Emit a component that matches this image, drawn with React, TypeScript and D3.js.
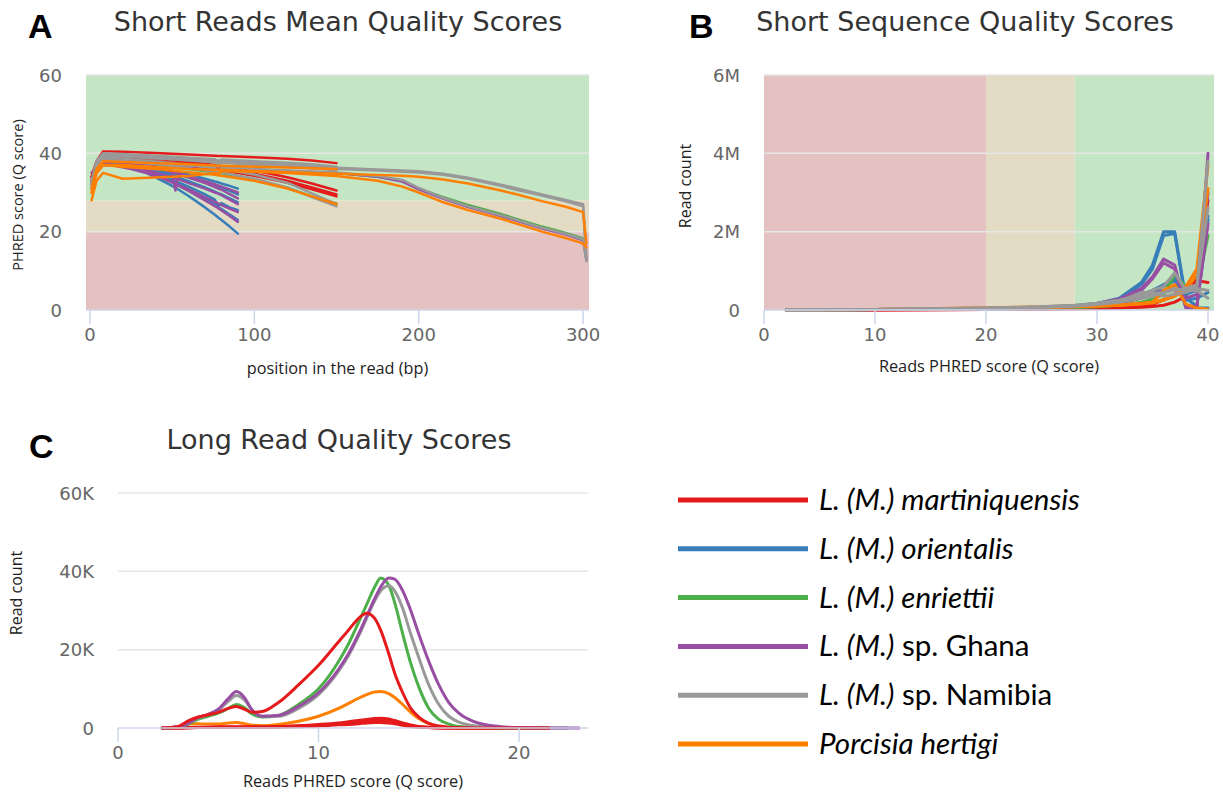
import React from 'react';
import * as d3 from 'd3';

const COLORS: Record<string, string> = {
  martiniquensis: '#e41a1c',
  orientalis: '#377eb8',
  enriettii: '#4daf4a',
  ghana: '#984ea3',
  namibia: '#999999',
  hertigi: '#ff7f00',
};

const LEGEND_KEYS = ['martiniquensis', 'orientalis', 'enriettii', 'ghana', 'namibia', 'hertigi'];
const LEGEND_ITALIC = ['L. (M.) martiniquensis', 'L. (M.) orientalis', 'L. (M.) enriettii', 'L. (M.)', 'L. (M.)', 'Porcisia hertigi'];
const LEGEND_PLAIN = ['', '', '', ' sp. Ghana', ' sp. Namibia', ''];

// ---- panel A: mean quality per position (Q score) ----
const A_POS_90 = [1, 4, 8, 15, 25, 35, 45, 50, 52, 54, 60, 70, 76, 78, 80, 85, 90];
const A_POS_150 = [1, 4, 8, 20, 40, 60, 76, 78, 80, 100, 120, 135, 150];
const A_POS_300 = [1, 4, 8, 20, 40, 60, 76, 78, 80, 100, 120, 150, 175, 190, 200, 215, 230, 250, 260, 275, 290, 300, 302];

const A_ORIENTALIS_90 = [
  [33, 36.5, 38, 37.9, 37.4, 36.8, 36.0, 35.6, 35.4, 35.2, 34.6, 33.5, 32.8, 32.6, 32.3, 31.7, 31],
  [32, 36, 38, 37.8, 37.3, 36.5, 35.6, 35.1, 34.8, 34.6, 33.9, 32.6, 31.8, 31.5, 31.2, 30.4, 29.5],
  [31, 35.5, 38, 37.8, 37.2, 36.2, 35.1, 34.4, 34.1, 33.8, 32.9, 31.3, 30.2, 29.8, 29.5, 28.5, 27.5],
  [34, 36, 37.5, 37.3, 36.5, 35.4, 34.0, 33.2, 32.9, 32.5, 31.5, 29.5, 28.2, 26.5, 27.3, 26.2, 25.5],
  [33, 36, 38, 37.7, 36.8, 35.5, 33.8, 32.9, 32.5, 32, 30.8, 28.4, 26.9, 26.3, 25.8, 24.4, 23],
  [32, 36, 38, 37.6, 36.5, 34.9, 32.8, 31.7, 31.2, 30.7, 29.1, 26.2, 24.3, 23.6, 23.0, 21.3, 19.5],
];
const A_GHANA_90 = [
  [33, 36, 38, 37.8, 37.4, 36.6, 35.8, 35.3, 35.0, 34.8, 34.1, 32.9, 32.1, 31.8, 31.5, 30.8, 30],
  [35, 36.5, 38.5, 38.3, 37.7, 36.8, 35.8, 35.2, 30.5, 34.7, 33.8, 32.4, 31.4, 31.0, 30.7, 29.6, 28.5],
  [34, 36, 37.5, 37.3, 36.7, 35.7, 34.5, 33.9, 33.6, 33.3, 32.4, 31, 30, 29.7, 29.3, 28.2, 27],
  [33, 35, 37, 36.8, 36, 34.9, 33.4, 32.6, 32.3, 31.9, 30.8, 28.8, 27.6, 27.2, 26.8, 25.9, 25],
  [34, 36, 38, 37.7, 36.8, 35.4, 33.6, 32.6, 32.2, 31.7, 30.4, 28, 26.5, 26, 25.4, 24, 22.5],
];
const A_MARTINIQUENSIS_150 = [
  [34, 38, 40.5, 40.4, 40.1, 39.7, 39.4, 39.3, 39.3, 39, 38.6, 38.2, 37.5],
  [33, 37, 39.5, 39.2, 38.6, 37.8, 37, 36.9, 36.8, 35.6, 33.9, 32.3, 30.5],
  [32, 36.5, 39, 38.7, 38, 37.2, 36.3, 36.2, 36.1, 34.8, 33, 31.3, 29.5],
  [33, 37, 39, 38.6, 37.8, 36.9, 36, 35.8, 35.7, 34.3, 32.5, 30.8, 29],
];
const A_NAMIBIA_150 = [
  [32, 37, 40, 39.8, 39.4, 38.9, 38.5, 36.5, 38.4, 38, 37.6, 37.2, 36.6],
  [31, 36, 39.5, 39.3, 38.8, 38.2, 37.7, 37.6, 37.6, 37.1, 36.6, 36.2, 35.7],
  [33, 37, 39, 38.6, 37.9, 37, 36.2, 34.5, 36, 34.6, 32.5, 29.8, 27],
  [32, 36, 38.5, 38, 37.2, 36.2, 35.3, 35.2, 35.1, 33.5, 31.3, 28.8, 26.5],
];
const A_ENRIETTII_150 = [
  [33, 36, 38, 37.6, 36.9, 36, 35.1, 35, 34.9, 33.4, 31.2, 29, 27.2],
];
const A_HERTIGI_150 = [
  [30, 35, 37, 36.6, 36, 35.2, 34.5, 34.4, 34.3, 33, 31, 29, 27],
  [31, 36, 38, 37.8, 37.5, 37.2, 36.9, 36.8, 36.8, 36.6, 36.4, 36.2, 36],
];
const A_NAMIBIA_300 = [
  [33, 38, 40, 39.5, 39, 38.6, 38.3, 38.2, 38.2, 37.6, 37, 36.3, 35.9, 35.6, 35.4, 34.8, 33.8, 32, 31, 29.5, 28, 27, 12.5],
  [32, 37, 39.5, 39.2, 38.7, 38.3, 38, 37.9, 37.9, 37.3, 36.8, 36, 35.6, 35.3, 35.1, 34.5, 33.5, 31.7, 30.6, 29.2, 27.7, 26.5, 14],
  [32, 37, 38.5, 38, 37.4, 36.9, 36.5, 35, 36.4, 36, 35.6, 35.1, 34.2, 33.2, 31.2, 28.6, 26.5, 24.2, 22.9, 21, 19.4, 18, 12.5],
];
const A_ENRIETTII_300 = [
  [33, 37, 38, 37.5, 37, 36.6, 36.3, 36.2, 36.2, 35.8, 35.5, 35, 34, 33, 31, 28.8, 26.8, 24.5, 23.2, 21.3, 19.6, 18.3, 13],
];
const A_GHANA_300 = [
  [33, 37, 38, 37.5, 37, 36.6, 36.3, 36.2, 36.2, 35.8, 35.5, 35, 34, 32.8, 30.8, 28.4, 26.3, 24, 22.7, 20.8, 19.2, 17.8, 13],
];
const A_HERTIGI_300 = [
  [30, 35, 37, 37, 36.5, 36, 35.8, 35.8, 35.8, 35.5, 35.2, 34.8, 34.5, 34.3, 34, 33.3, 32.3, 30.5, 29.5, 27.8, 26.3, 25, 17],
  [28, 33, 35, 33.5, 33.8, 34.2, 35, 34.8, 35.5, 35.3, 35, 34.2, 33, 31.5, 30, 27.5, 25.5, 23.3, 22, 20, 18.3, 17, 16],
];

// ---- panel B: read count per read quality (millions) ----
const B_POS = [2, 10, 20, 25, 28, 30, 32, 34, 35, 36, 37, 38, 39, 40];
const B_MARTINIQUENSIS = [
  [0, 0, 0.01, 0.02, 0.03, 0.04, 0.05, 0.07, 0.09, 0.12, 0.2, 0.35, 0.8, 2.8],
  [0, 0, 0.01, 0.02, 0.03, 0.04, 0.06, 0.1, 0.15, 0.25, 0.4, 0.6, 0.75, 0.7],
];
const B_ORIENTALIS = [
  [0, 0.01, 0.03, 0.06, 0.1, 0.16, 0.3, 0.7, 1.15, 2.0, 2.0, 0.3, 0.1, 2.3],
  [0, 0.01, 0.03, 0.06, 0.1, 0.15, 0.28, 0.65, 1.05, 1.9, 1.95, 0.25, 0.3, 0.45],
  [0, 0.01, 0.02, 0.05, 0.08, 0.12, 0.2, 0.4, 0.5, 0.65, 0.8, 0.1, 0.05, 0.05],
  [0, 0.01, 0.02, 0.05, 0.08, 0.12, 0.2, 0.35, 0.45, 0.6, 0.75, 0.4, 0.5, 2.4],
];
const B_ENRIETTII = [
  [0, 0.01, 0.02, 0.04, 0.06, 0.08, 0.12, 0.2, 0.28, 0.4, 0.9, 0.6, 0.55, 1.9],
];
const B_GHANA = [
  [0, 0.01, 0.03, 0.06, 0.1, 0.17, 0.28, 0.55, 0.85, 1.3, 1.15, 0.05, 0.05, 4.0],
  [0, 0.01, 0.03, 0.06, 0.1, 0.16, 0.25, 0.5, 0.8, 1.2, 1.05, 0.1, 0.1, 2.2],
  [0, 0.01, 0.02, 0.05, 0.08, 0.12, 0.18, 0.3, 0.4, 0.5, 0.55, 0.3, 0.4, 3.0],
];
const B_HERTIGI = [
  [0, 0.01, 0.06, 0.08, 0.1, 0.11, 0.13, 0.17, 0.2, 0.27, 0.38, 0.6, 1.05, 3.7],
  [0, 0.01, 0.05, 0.07, 0.09, 0.1, 0.12, 0.15, 0.18, 0.25, 0.35, 0.5, 0.9, 3.1],
  [0, 0.01, 0.04, 0.06, 0.08, 0.1, 0.12, 0.16, 0.2, 0.5, 0.65, 0.15, 0.05, 0.02],
];
const B_NAMIBIA = [
  [0, 0.01, 0.05, 0.08, 0.12, 0.17, 0.25, 0.4, 0.5, 0.6, 0.95, 0.5, 0.6, 3.8],
  [0, 0.01, 0.05, 0.08, 0.12, 0.16, 0.22, 0.35, 0.42, 0.45, 0.5, 0.55, 0.65, 2.6],
  [0, 0.01, 0.04, 0.07, 0.1, 0.14, 0.2, 0.3, 0.35, 0.45, 0.55, 0.5, 0.5, 0.3],
  [0, 0.01, 0.04, 0.07, 0.1, 0.15, 0.22, 0.45, 0.45, 0.35, 0.4, 0.45, 0.55, 0.5],
];

// ---- panel C: long read quality (thousands) ----
const C_POS = [2.2, 3, 3.5, 4, 4.5, 5, 5.5, 5.9, 6.3, 6.7, 7.2, 8, 9, 10, 11, 11.5, 12, 12.4, 12.8, 13.1, 13.5, 13.8, 14.2, 14.6, 15, 15.5, 16, 16.5, 17, 18, 19, 20, 21.5, 22.4, 23];
const C_HERTIGI = [
  [0, 0.2, 1.0, 1.1, 1.0, 1.0, 1.3, 1.4, 1.1, 0.7, 0.6, 0.9, 1.7, 3, 5, 6.3, 7.6, 8.5, 9.2, 9.3, 8.8, 7.8, 6, 4, 2.4, 1.1, 0.4, 0.1, 0, 0, 0, null, null, null, null],
];
const C_MARTINIQUENSIS_LOW = [
  [0, 0, 0.1, 0.2, 0.2, 0.3, 0.3, 0.3, 0.3, 0.3, 0.3, 0.4, 0.6, 0.9, 1.3, 1.6, 1.9, 2.2, 2.4, 2.5, 2.3, 1.9, 1.3, 0.8, 0.4, 0.2, 0.1, 0, 0, 0, 0, 0, 0, null, null],
  [0, 0, 0.1, 0.1, 0.2, 0.2, 0.2, 0.2, 0.2, 0.2, 0.2, 0.3, 0.5, 0.7, 1.0, 1.2, 1.5, 1.7, 1.9, 1.9, 1.8, 1.5, 1.0, 0.6, 0.3, 0.1, 0, 0, 0, 0, 0, 0, 0, null, null],
  [0, 0, 0, 0.1, 0.1, 0.1, 0.1, 0.1, 0.1, 0.1, 0.1, 0.2, 0.3, 0.5, 0.8, 0.9, 1.1, 1.3, 1.4, 1.4, 1.3, 1.1, 0.7, 0.4, 0.2, 0.1, 0, 0, 0, 0, 0, 0, 0, null, null],
];
const C_ENRIETTII = [
  [0, 0.2, 1, 2.3, 3, 3.8, 5, 6, 5.2, 3.5, 2.8, 3.2, 6, 10, 17, 21.5, 27, 31.5, 36, 38.3, 36.5, 32, 24, 16.5, 10.5, 5, 2.2, 1, 0.4, 0.1, 0, 0, 0, null, null],
];
const C_NAMIBIA = [
  [0, 0.3, 1.2, 2.6, 3.4, 4.6, 6.8, 8.3, 7.2, 4.5, 3.0, 3.0, 5, 8.5, 14.5, 18.5, 23.5, 28, 32.5, 35, 36.3, 35, 30.5, 24, 18, 11, 6, 3, 1.5, 0.4, 0.1, 0, 0, 0, null],
];
const C_GHANA = [
  [0, 0.3, 1.2, 2.7, 3.5, 4.8, 7.5, 9.3, 7.8, 4.5, 3.0, 3.2, 5.5, 9, 15, 19, 24, 28.5, 33, 36, 38.3, 38, 35, 30, 24, 17, 11, 6.5, 3.8, 1.2, 0.4, 0.1, 0, 0, 0],
];
const C_MARTINIQUENSIS = [
  [0, 0.4, 1.8, 2.8, 3.4, 4.0, 5.0, 5.5, 4.8, 4.0, 4.2, 6.5, 11, 16, 22, 25, 28, 29.3, 28, 25, 19, 14, 9, 5, 2.8, 1.2, 0.5, 0.2, 0.1, 0, 0, 0, 0, null, null],
];

type Series = { key: string; pos: number[]; lines: (number | null)[][] };

const A_SERIES: Series[] = [
  { key: 'orientalis', pos: A_POS_90, lines: A_ORIENTALIS_90 },
  { key: 'ghana', pos: A_POS_90, lines: A_GHANA_90 },
  { key: 'enriettii', pos: A_POS_150, lines: A_ENRIETTII_150 },
  { key: 'enriettii', pos: A_POS_300, lines: A_ENRIETTII_300 },
  { key: 'ghana', pos: A_POS_300, lines: A_GHANA_300 },
  { key: 'martiniquensis', pos: A_POS_150, lines: A_MARTINIQUENSIS_150 },
  { key: 'namibia', pos: A_POS_150, lines: A_NAMIBIA_150 },
  { key: 'namibia', pos: A_POS_300, lines: A_NAMIBIA_300 },
  { key: 'hertigi', pos: A_POS_150, lines: A_HERTIGI_150 },
  { key: 'hertigi', pos: A_POS_300, lines: A_HERTIGI_300 },
];
const B_SERIES: Series[] = [
  { key: 'martiniquensis', pos: B_POS, lines: B_MARTINIQUENSIS },
  { key: 'orientalis', pos: B_POS, lines: B_ORIENTALIS },
  { key: 'enriettii', pos: B_POS, lines: B_ENRIETTII },
  { key: 'ghana', pos: B_POS, lines: B_GHANA },
  { key: 'hertigi', pos: B_POS, lines: B_HERTIGI },
  { key: 'namibia', pos: B_POS, lines: B_NAMIBIA },
];
const C_SERIES: Series[] = [
  { key: 'hertigi', pos: C_POS, lines: C_HERTIGI },
  { key: 'martiniquensis', pos: C_POS, lines: C_MARTINIQUENSIS_LOW },
  { key: 'enriettii', pos: C_POS, lines: C_ENRIETTII },
  { key: 'namibia', pos: C_POS, lines: C_NAMIBIA },
  { key: 'ghana', pos: C_POS, lines: C_GHANA },
  { key: 'martiniquensis', pos: C_POS, lines: C_MARTINIQUENSIS },
];

const BAND_RED = '#e4c2c2';
const BAND_BEIGE = '#e4dbc4';
const BAND_GREEN = '#c4e6c4';
const QUALITY_BANDS: [number, number, string][] = [
  [0, 20, BAND_RED],
  [20, 28, BAND_BEIGE],
  [28, 100, BAND_GREEN],
];

const TICK_FONT = '"DejaVu Sans", sans-serif';
const TITLE_FONT = '"DejaVu Sans", sans-serif';
const LABEL_FONT = '"Open Sans", sans-serif';
const LETTER_FONT = '"Liberation Sans", Arial, sans-serif';

type PanelProps = {
  id: string;
  left: number; top: number; width: number; height: number;
  xDomain: [number, number]; yDomain: [number, number];
  xTicks: number[]; yTicks: number[];
  yFmt: (v: number) => string;
  bands?: 'x' | 'y';
  series: Series[];
  curve: d3.CurveFactory;
  strokeWidth: number;
  xTitle: string; xTitleDy: number;
  yTitle: string; yTitleX: number; yTitleY: number; yTitleSize: number;
};

function Panel(p: PanelProps) {
  const x = d3.scaleLinear().domain(p.xDomain).range([p.left, p.left + p.width]);
  const y = d3.scaleLinear().domain(p.yDomain).range([p.top + p.height, p.top]);
  const bottom = p.top + p.height;
  const line = d3
    .line<[number, number | null]>()
    .defined((d) => d[1] != null)
    .x((d) => x(d[0]))
    .y((d) => y(d[1] as number))
    .curve(p.curve);

  return (
    <g>
      <defs>
        <clipPath id={p.id}>
          <rect x={p.left} y={p.top - 2} width={p.width} height={p.height + 4} />
        </clipPath>
      </defs>
      {p.bands === 'y' &&
        QUALITY_BANDS.map(([a, b, c]) => {
          const y0 = y(Math.min(b, p.yDomain[1]));
          return <rect key={a} x={p.left} y={y0} width={p.width} height={y(a) - y0} fill={c} />;
        })}
      {p.bands === 'x' &&
        QUALITY_BANDS.map(([a, b, c]) => {
          const x0 = x(a);
          return <rect key={a} x={x0} y={p.top} width={x(Math.min(b, p.xDomain[1])) - x0} height={p.height} fill={c} />;
        })}
      {p.yTicks.filter((t) => t !== 0).map((t) => (
        <line key={t} x1={p.left} x2={p.left + p.width} y1={y(t)} y2={y(t)} stroke="#e6e6e6" strokeWidth={1.5} />
      ))}
      <g clipPath={`url(#${p.id})`} fill="none" strokeLinejoin="round" strokeLinecap="round">
        {p.series.map((s, i) =>
          s.lines.map((vals, j) => (
            <path
              key={`${i}-${j}`}
              d={line(s.pos.map((q, k) => [q, vals[k]]) as [number, number | null][]) || ''}
              stroke={COLORS[s.key]}
              strokeWidth={p.strokeWidth}
            />
          )),
        )}
      </g>
      <line x1={p.left} x2={p.left + p.width} y1={bottom} y2={bottom} stroke="#ccd6eb" strokeWidth={1.5} />
      {p.xTicks.map((t) => (
        <g key={t}>
          <line x1={x(t)} x2={x(t)} y1={bottom} y2={bottom + 14} stroke="#ccd6eb" strokeWidth={1.5} />
          <text x={x(t)} y={bottom + 31} textAnchor="middle" fontFamily={TICK_FONT} fontSize={18} fill="#666">
            {t}
          </text>
        </g>
      ))}
      {p.yTicks.map((t) => (
        <text key={t} x={p.left - 24} y={y(t) + 6.5} textAnchor="end" fontFamily={TICK_FONT} fontSize={18} fill="#666">
          {p.yFmt(t)}
        </text>
      ))}
      <text x={p.left + p.width / 2} y={bottom + p.xTitleDy} textAnchor="middle" fontFamily={LABEL_FONT} fontSize={16.3} fill="#222">
        {p.xTitle}
      </text>
      <text
        transform={`translate(${p.yTitleX},${p.yTitleY}) rotate(-90)`}
        textAnchor="middle"
        fontFamily={LABEL_FONT}
        fontSize={p.yTitleSize}
        fill="#222"
      >
        {p.yTitle}
      </text>
    </g>
  );
}

export default function App() {
  return (
    <svg width={1223} height={796} style={{ position: 'absolute', left: 0, top: 0, background: '#fff' }}>
      <text x={28} y={38} fontFamily={LETTER_FONT} fontWeight="bold" fontSize={34}>A</text>
      <text x={338} y={31} textAnchor="middle" fontFamily={TITLE_FONT} fontSize={27} fill="#333">
        Short Reads Mean Quality Scores
      </text>
      <Panel
        id="clipA"
        left={86} top={75} width={503} height={235}
        xDomain={[-2.4, 303.6]} yDomain={[0, 60]}
        xTicks={[0, 100, 200, 300]} yTicks={[0, 20, 40, 60]}
        yFmt={(v) => `${v}`}
        bands="y"
        series={A_SERIES}
        curve={d3.curveLinear}
        strokeWidth={2.5}
        xTitle="position in the read (bp)" xTitleDy={64}
        yTitle="PHRED score (Q score)" yTitleX={23} yTitleY={195} yTitleSize={14.5}
      />

      <text x={689} y={38} fontFamily={LETTER_FONT} fontWeight="bold" fontSize={34}>B</text>
      <text x={965} y={31} textAnchor="middle" fontFamily={TITLE_FONT} fontSize={27} fill="#333">
        Short Sequence Quality Scores
      </text>
      <Panel
        id="clipB"
        left={764} top={75} width={450} height={235}
        xDomain={[0, 40.54]} yDomain={[0, 6]}
        xTicks={[0, 10, 20, 30, 40]} yTicks={[0, 2, 4, 6]}
        yFmt={(v) => (v === 0 ? '0' : `${v}M`)}
        bands="x"
        series={B_SERIES}
        curve={d3.curveLinear}
        strokeWidth={3}
        xTitle="Reads PHRED score (Q score)" xTitleDy={62}
        yTitle="Read count" yTitleX={691} yTitleY={186} yTitleSize={16}
      />

      <text x={29} y={458} fontFamily={LETTER_FONT} fontWeight="bold" fontSize={34}>C</text>
      <text x={339} y={449} textAnchor="middle" fontFamily={TITLE_FONT} fontSize={27} fill="#333">
        Long Read Quality Scores
      </text>
      <Panel
        id="clipC"
        left={118} top={493} width={470} height={235}
        xDomain={[0, 23.44]} yDomain={[0, 60]}
        xTicks={[0, 10, 20]} yTicks={[0, 20, 40, 60]}
        yFmt={(v) => (v === 0 ? '0' : `${v}K`)}
        series={C_SERIES}
        curve={d3.curveMonotoneX}
        strokeWidth={3}
        xTitle="Reads PHRED score (Q score)" xTitleDy={59}
        yTitle="Read count" yTitleX={22} yTitleY={593} yTitleSize={16}
      />

      {LEGEND_KEYS.map((k, i) => {
        const ly = 500 + i * 48.8;
        return (
          <g key={k}>
            <line x1={678} x2={808} y1={ly} y2={ly} stroke={COLORS[k]} strokeWidth={5} />
            <text x={819} y={ly + 10} fontFamily='Lato, "Open Sans", sans-serif' fontSize={29.5} fill="#000">
              <tspan fontStyle="italic">{LEGEND_ITALIC[i]}</tspan>
              {LEGEND_PLAIN[i] && <tspan>{LEGEND_PLAIN[i]}</tspan>}
            </text>
          </g>
        );
      })}
    </svg>
  );
}
